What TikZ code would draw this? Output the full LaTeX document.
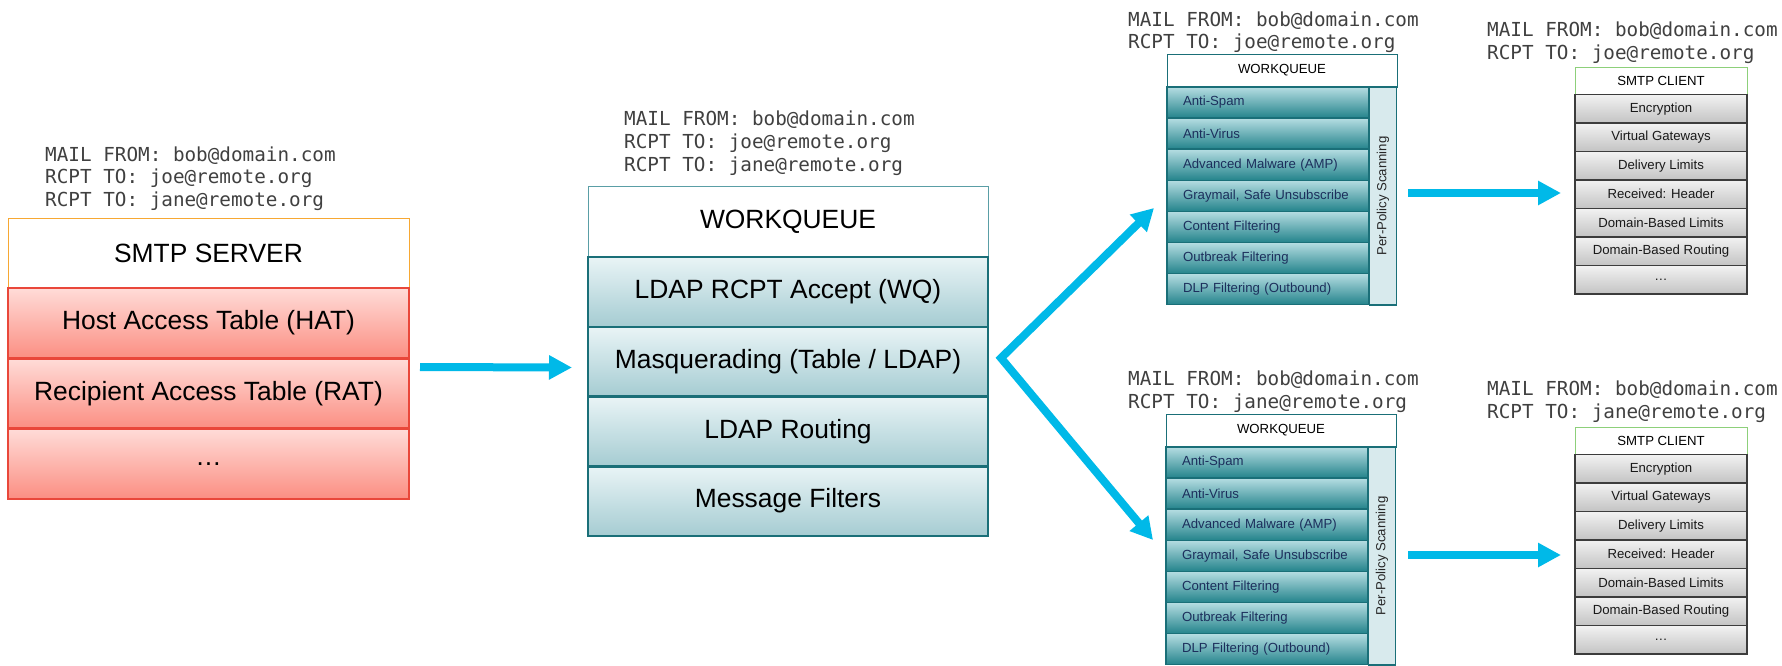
\documentclass[tikz,border=0pt]{standalone}
\usepackage{fontspec}
\setmainfont{Liberation Sans}
\newfontfamily\monof{DejaVu Sans Mono}
\usetikzlibrary{arrows.meta}
\definecolor{monogray}{HTML}{404040}
\definecolor{redb}{HTML}{E9473A}
\definecolor{redt}{HTML}{FFDCD8}
\definecolor{redbot}{HTML}{FB8E82}
\definecolor{orangeb}{HTML}{F7A833}
\definecolor{tealb}{HTML}{1A6F78}
\definecolor{tealhdr}{HTML}{5A9EA6}
\definecolor{midt}{HTML}{E9F4F6}
\definecolor{midbot}{HTML}{A5CCD2}
\definecolor{wqt}{HTML}{B5DDE2}
\definecolor{wqbot}{HTML}{23838B}
\definecolor{wqtext}{HTML}{1C2F5C}
\definecolor{ppfill}{HTML}{D8EAED}
\definecolor{grayb}{HTML}{3C3C3C}
\definecolor{grayt}{HTML}{F2F2F2}
\definecolor{graybot}{HTML}{C3C3C3}
\definecolor{greenb}{HTML}{8DD07A}
\definecolor{arrowc}{HTML}{00B9E8}
\begin{document}
\begin{tikzpicture}[x=1pt,y=-1pt,
  cell/.style={draw, rectangle, inner sep=0pt, outer sep=0pt, anchor=north west},
  bigfont/.style={font=\fontsize{26.4}{30}\selectfont},
  smallfont/.style={font=\fontsize{13.2}{15}\selectfont},
  mono/.style={anchor=base west, inner sep=0pt, text=monogray, font=\monof\fontsize{19.3}{23}\selectfont},
  srvhdr/.style={cell, bigfont, draw=orangeb, line width=1pt, fill=white, minimum width=401pt, minimum height=70pt},
  redrow/.style={cell, bigfont, draw=redb, line width=2.5pt, top color=redt, bottom color=redbot, minimum width=401pt, minimum height=70.3pt},
  bighdr/.style={cell, bigfont, draw=tealhdr, line width=1pt, fill=white, minimum width=400pt, minimum height=71pt},
  midrow/.style={cell, bigfont, draw=tealb, line width=2.5pt, top color=midt, bottom color=midbot, minimum width=400pt, minimum height=69.75pt},
  wqhdr/.style={cell, smallfont, draw=tealb, line width=1pt, fill=white, minimum width=230pt, minimum height=33pt},
  wqrow/.style={cell, smallfont, draw=tealb, line width=1.5pt, top color=wqt, bottom color=wqbot, text=wqtext, minimum width=202pt, minimum height=31.1pt, text width=170pt, inner xsep=16pt, align=left},
  ppcol/.style={draw=tealb, line width=1.5pt, fill=ppfill, rectangle, inner sep=0pt, outer sep=0pt, smallfont, text=black!85, rotate=90, minimum width=218pt, minimum height=27pt},
  clhdr/.style={cell, smallfont, draw=greenb, line width=1pt, fill=white, minimum width=172pt, minimum height=27.5pt},
  clrow/.style={cell, smallfont, draw=grayb, line width=1.5pt, top color=grayt, bottom color=graybot, text=black!90, minimum width=172pt, minimum height=28.5pt},
  bigarrow/.style={draw=arrowc, line width=8pt, -{Triangle[length=23pt,width=23pt]}},
  forkarrow/.style={draw=arrowc, line width=8pt, line join=miter, {Triangle[length=22pt,width=23pt]}-{Triangle[length=22pt,width=23pt]}}
]
\useasboundingbox (0,0) rectangle (1782,665);

% ---------- SMTP server ----------
\node[mono] (s1) at (45,161) {MAIL FROM: bob@domain.com};
\node[mono] (s2) at (45,183.5) {RCPT TO: joe@remote.org};
\node[mono] (s3) at (45,206) {RCPT TO: jane@remote.org};
\node[srvhdr] (srv) at (8,218) {SMTP SERVER};
\node[redrow] (hat) at (srv.south west) {Host Access Table (HAT)};
\node[redrow] (rat) at (hat.south west) {Recipient Access Table (RAT)};
\node[redrow] (srvdots) at (rat.south west) {…};

% ---------- Workqueue (middle) ----------
\node[mono] (w1) at (624,125) {MAIL FROM: bob@domain.com};
\node[mono] (w2) at (624,148) {RCPT TO: joe@remote.org};
\node[mono] (w3) at (624,171) {RCPT TO: jane@remote.org};
\node[bighdr] (wq) at (588,186) {WORKQUEUE};
\node[midrow] (ldapacc) at (wq.south west) {LDAP RCPT Accept (WQ)};
\node[midrow] (masq) at (ldapacc.south west) {Masquerading (Table / LDAP)};
\node[midrow] (ldaprt) at (masq.south west) {LDAP Routing};
\node[midrow] (msgf) at (ldaprt.south west) {Message Filters};

% ---------- Top workqueue ----------
\node[mono] (tq1) at (1128,26) {MAIL FROM: bob@domain.com};
\node[mono] (tq2) at (1128,48) {RCPT TO: joe@remote.org};
\node[wqhdr] (twq) at (1167,54) {WORKQUEUE};
\node[wqrow] (tr1) at (twq.south west) {Anti-Spam};
\node[wqrow] (tr2) at (tr1.south west) {Anti-Virus};
\node[wqrow] (tr3) at (tr2.south west) {Advanced Malware (AMP)};
\node[wqrow] (tr4) at (tr3.south west) {Graymail, Safe Unsubscribe};
\node[wqrow] (tr5) at (tr4.south west) {Content Filtering};
\node[wqrow] (tr6) at (tr5.south west) {Outbreak Filtering};
\node[wqrow] (tr7) at (tr6.south west) {DLP Filtering (Outbound)};
\node[ppcol] (tpp) at (1383,196) {Per-Policy Scanning};

% ---------- Bottom workqueue ----------
\node[mono] (bq1) at (1128,385) {MAIL FROM: bob@domain.com};
\node[mono] (bq2) at (1128,408) {RCPT TO: jane@remote.org};
\node[wqhdr] (bwq) at (1166,414) {WORKQUEUE};
\node[wqrow] (br1) at (bwq.south west) {Anti-Spam};
\node[wqrow] (br2) at (br1.south west) {Anti-Virus};
\node[wqrow] (br3) at (br2.south west) {Advanced Malware (AMP)};
\node[wqrow] (br4) at (br3.south west) {Graymail, Safe Unsubscribe};
\node[wqrow] (br5) at (br4.south west) {Content Filtering};
\node[wqrow] (br6) at (br5.south west) {Outbreak Filtering};
\node[wqrow] (br7) at (br6.south west) {DLP Filtering (Outbound)};
\node[ppcol] (bpp) at (1382,556) {Per-Policy Scanning};

% ---------- Top SMTP client ----------
\node[mono] (tc1) at (1487,36) {MAIL FROM: bob@domain.com};
\node[mono] (tc2) at (1487,59) {RCPT TO: joe@remote.org};
\node[clhdr] (tcl) at (1575,67) {SMTP CLIENT};
\node[clrow] (tc3) at (tcl.south west) {Encryption};
\node[clrow] (tc4) at (tc3.south west) {Virtual Gateways};
\node[clrow] (tc5) at (tc4.south west) {Delivery Limits};
\node[clrow] (tc6) at (tc5.south west) {Received: Header};
\node[clrow] (tc7) at (tc6.south west) {Domain-Based Limits};
\node[clrow] (tc8) at (tc7.south west) {Domain-Based Routing};
\node[clrow] (tc9) at (tc8.south west) {…};

% ---------- Bottom SMTP client ----------
\node[mono] (bc1) at (1487,395) {MAIL FROM: bob@domain.com};
\node[mono] (bc2) at (1487,418) {RCPT TO: jane@remote.org};
\node[clhdr] (bcl) at (1575,427) {SMTP CLIENT};
\node[clrow] (bc3) at (bcl.south west) {Encryption};
\node[clrow] (bc4) at (bc3.south west) {Virtual Gateways};
\node[clrow] (bc5) at (bc4.south west) {Delivery Limits};
\node[clrow] (bc6) at (bc5.south west) {Received: Header};
\node[clrow] (bc7) at (bc6.south west) {Domain-Based Limits};
\node[clrow] (bc8) at (bc7.south west) {Domain-Based Routing};
\node[clrow] (bc9) at (bc8.south west) {…};

% ---------- Arrows ----------
\coordinate (a1s) at (420,367);
\coordinate (a1e) at (572,367.5);
\draw[bigarrow] (a1s) -- (a1e);

\coordinate (fork) at (1001,358);
\coordinate (forkT) at (1154,208);
\coordinate (forkB) at (1153,540);
\draw[forkarrow] (forkT) -- (fork) -- (forkB);

\coordinate (a2s) at (1408,193);
\coordinate (a2e) at (1561,193);
\draw[bigarrow] (a2s) -- (a2e);

\coordinate (a3s) at (1408,555);
\coordinate (a3e) at (1561,555);
\draw[bigarrow] (a3s) -- (a3e);
\end{tikzpicture}
\end{document}
